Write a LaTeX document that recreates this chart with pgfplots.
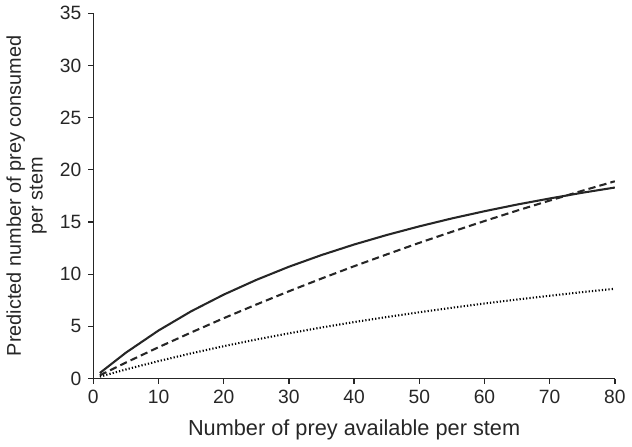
\documentclass[border=0pt]{standalone}
\usepackage{fontspec}
\setmainfont{Liberation Sans}
\usepackage{pgfplots}
\pgfplotsset{compat=1.18}

% prey consumed per stem
\pgfplotstableread{
N solid dashed dotted
1 0.53 0.31 0.18
5 2.48 1.53 0.87
10 4.60 3.00 1.67
15 6.44 4.41 2.41
20 8.04 5.78 3.10
25 9.45 7.09 3.74
30 10.71 8.36 4.33
35 11.83 9.58 4.89
40 12.84 10.76 5.41
45 13.75 11.89 5.89
50 14.58 13.00 6.35
55 15.34 14.06 6.78
60 16.03 15.09 7.19
65 16.67 16.09 7.57
70 17.25 17.05 7.93
75 17.80 17.99 8.28
80 18.30 18.90 8.60
}\prey

\begin{document}
\fontsize{9.3}{11}\selectfont
\begin{tikzpicture}
\begin{axis}[
  scale only axis,
  width=252pt, height=176.5pt,
  axis lines*=left,
  axis line style={line width=0.7pt, black!85},
  xmin=0, xmax=80, ymin=0, ymax=35,
  xtick={0,10,...,80}, ytick={0,5,...,35},
  tick align=outside,
  major tick length=2.5pt,
  tick style={line width=0.6pt, black!85},
  /pgf/number format/assume math mode=true,
  ticklabel style={font=\fontsize{9.3}{11}\selectfont, text=black!85},
  xlabel={Number of prey available per stem},
  ylabel={Predicted number of prey consumed\\per stem},
  xlabel style={font=\fontsize{10.5}{12}\selectfont, text=black!85, yshift=-1pt},
  ylabel style={font=\fontsize{9.6}{10.5}\selectfont, text=black!85, align=center},
]
\addplot[black!85, line width=1pt] table[x=N, y=solid] {\prey};
\addplot[black!85, line width=1pt, dash pattern=on 3.5pt off 2pt] table[x=N, y=dashed] {\prey};
\addplot[black, line width=1pt, dash pattern=on 0.6pt off 1pt] table[x=N, y=dotted] {\prey};
\end{axis}
\end{tikzpicture}
\end{document}
